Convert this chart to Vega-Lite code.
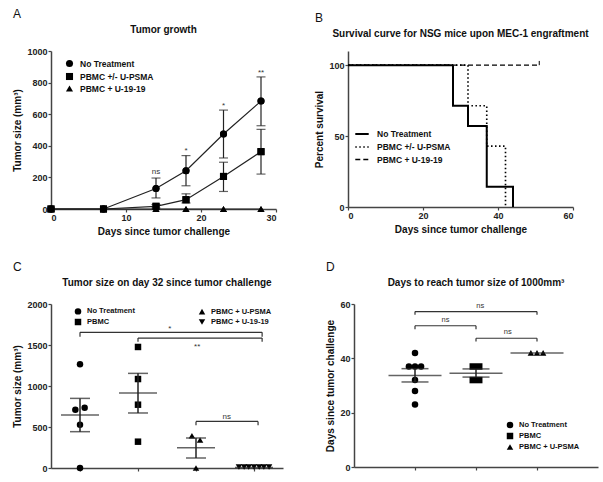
{
  "$schema": "https://vega.github.io/schema/vega-lite/v6.json",
  "background": "white",
  "padding": {"left": 12, "top": 8, "right": 5, "bottom": 5},
  "config": {
    "font": "Liberation Sans",
    "view": {"stroke": null},
    "axis": {"domainColor": "#444", "domainWidth": 1.5, "tickColor": "#444", "tickSize": 3, "tickWidth": 1.2, "labelFont": "Liberation Sans", "labelFontWeight": "bold", "labelFontSize": 9, "labelColor": "#222", "labelPadding": 1, "labelOverlap": false, "titleFont": "Liberation Sans", "titleFontWeight": "bold", "titleFontSize": 10, "titleColor": "#111", "grid": false, "format": "d"},
    "title": {"font": "Liberation Sans", "fontSize": 10, "fontWeight": "bold", "color": "#111"},
    "legend": {"title": null, "labelFont": "Liberation Sans", "labelFontWeight": "bold", "labelColor": "#111", "symbolFillColor": "black", "symbolStrokeColor": "black"}
  },
  "resolve": {"scale": {"shape": "independent", "strokeDash": "independent", "strokeWidth": "independent"}, "legend": {"shape": "independent", "strokeDash": "independent", "strokeWidth": "independent"}},
  "spacing": 25,
  "vconcat": [
    {
      "spacing": 37,
      "resolve": {"scale": {"shape": "independent", "strokeDash": "independent", "strokeWidth": "independent"}, "legend": {"shape": "independent", "strokeDash": "independent", "strokeWidth": "independent"}},
      "hconcat": [
        {
          "title": {"text": "A", "anchor": "start", "fontSize": 12, "fontWeight": "normal", "offset": 4},
          "vconcat": [
            {
              "width": 225, "height": 158,
              "title": {"text": "Tumor growth", "offset": 12, "frame": "group"},
              "data": {"values": [
                {"group": "PBMC + U-19-19", "day": 0, "size": 0},
                {"group": "PBMC + U-19-19", "day": 7, "size": 0},
                {"group": "PBMC + U-19-19", "day": 14, "size": 0},
                {"group": "PBMC + U-19-19", "day": 18, "size": 0},
                {"group": "PBMC + U-19-19", "day": 23, "size": 0},
                {"group": "PBMC + U-19-19", "day": 28, "size": 0},
                {"group": "No Treatment", "day": 0, "size": 0},
                {"group": "No Treatment", "day": 7, "size": 0},
                {"group": "No Treatment", "day": 14, "size": 130, "lo": 70, "hi": 196},
                {"group": "No Treatment", "day": 18, "size": 242, "lo": 147, "hi": 338},
                {"group": "No Treatment", "day": 23, "size": 475, "lo": 323, "hi": 626},
                {"group": "No Treatment", "day": 28, "size": 683, "lo": 527, "hi": 836},
                {"group": "PBMC +/- U-PSMA", "day": 0, "size": 0},
                {"group": "PBMC +/- U-PSMA", "day": 7, "size": 0},
                {"group": "PBMC +/- U-PSMA", "day": 14, "size": 17, "lo": 6, "hi": 28},
                {"group": "PBMC +/- U-PSMA", "day": 18, "size": 59, "lo": 38, "hi": 96},
                {"group": "PBMC +/- U-PSMA", "day": 23, "size": 206, "lo": 111, "hi": 296},
                {"group": "PBMC +/- U-PSMA", "day": 28, "size": 363, "lo": 221, "hi": 504}
              ]},
              "layer": [
                {
                  "mark": {"type": "point", "filled": true, "color": "black", "opacity": 1, "size": 50},
                  "encoding": {
                    "x": {"field": "day", "type": "quantitative", "scale": {"domain": [0, 30]}, "axis": {"values": [0, 10, 20, 30], "title": "Days since tumor challenge"}},
                    "y": {"field": "size", "type": "quantitative", "scale": {"domain": [0, 1000]}, "axis": {"values": [0, 200, 400, 600, 800, 1000], "tickCount": 6, "labelOverlap": false, "title": "Tumor size (mm³)"}},
                    "shape": {"field": "group", "type": "nominal",
                      "scale": {"domain": ["No Treatment", "PBMC +/- U-PSMA", "PBMC + U-19-19"], "range": ["circle", "square", "triangle-up"]},
                      "legend": {"orient": "none", "legendX": 14, "legendY": 8, "labelFontSize": 8.5, "symbolSize": 50, "rowPadding": -2, "labelOffset": 6}}
                  }
                },
                {
                  "mark": {"type": "line", "color": "#222", "strokeWidth": 1.2},
                  "encoding": {
                    "x": {"field": "day", "type": "quantitative"},
                    "y": {"field": "size", "type": "quantitative"},
                    "detail": {"field": "group"}
                  }
                },
                {
                  "mark": {"type": "rule", "color": "#222", "strokeWidth": 1.2},
                  "encoding": {
                    "x": {"field": "day", "type": "quantitative"},
                    "y": {"field": "lo", "type": "quantitative"},
                    "y2": {"field": "hi"}
                  }
                },
                {
                  "mark": {"type": "tick", "orient": "horizontal", "size": 9, "thickness": 1.2, "color": "#222"},
                  "encoding": {"x": {"field": "day", "type": "quantitative"}, "y": {"field": "lo", "type": "quantitative"}}
                },
                {
                  "mark": {"type": "tick", "orient": "horizontal", "size": 9, "thickness": 1.2, "color": "#222"},
                  "encoding": {"x": {"field": "day", "type": "quantitative"}, "y": {"field": "hi", "type": "quantitative"}}
                },
                {
                  "mark": {"type": "point", "filled": true, "color": "black", "opacity": 1, "size": 50},
                  "encoding": {
                    "x": {"field": "day", "type": "quantitative"},
                    "y": {"field": "size", "type": "quantitative"},
                    "shape": {"field": "group", "type": "nominal"}
                  }
                },
                {
                  "data": {"values": [
                    {"day": 14, "y": 237, "label": "ns"},
                    {"day": 18, "y": 365, "label": "*"},
                    {"day": 23, "y": 652, "label": "*"},
                    {"day": 28, "y": 862, "label": "**"}
                  ]},
                  "mark": {"type": "text", "fontSize": 8, "color": "#333", "baseline": "middle"},
                  "encoding": {"x": {"field": "day", "type": "quantitative"}, "y": {"field": "y", "type": "quantitative"}, "text": {"field": "label"}}
                }
              ]
            }
          ]
        },
        {
          "title": {"text": "B", "anchor": "start", "fontSize": 12, "fontWeight": "normal", "offset": 4},
          "vconcat": [
            {
              "width": 225, "height": 156,
              "title": {"text": "Survival curve for NSG mice upon MEC-1 engraftment", "offset": 12, "frame": "group"},
              "layer": [
                {
                  "data": {"values": [
                    {"group": "PBMC + U-19-19", "day": 0, "surv": 100},
                    {"group": "PBMC + U-19-19", "day": 51, "surv": 100},
                    {"group": "PBMC +/- U-PSMA", "day": 0, "surv": 100},
                    {"group": "PBMC +/- U-PSMA", "day": 32, "surv": 71.4},
                    {"group": "PBMC +/- U-PSMA", "day": 37, "surv": 42.9},
                    {"group": "PBMC +/- U-PSMA", "day": 42, "surv": 0},
                    {"group": "No Treatment", "day": 0, "surv": 100},
                    {"group": "No Treatment", "day": 28, "surv": 71.4},
                    {"group": "No Treatment", "day": 32, "surv": 57.1},
                    {"group": "No Treatment", "day": 37, "surv": 14.3},
                    {"group": "No Treatment", "day": 44, "surv": 0}
                  ]},
                  "mark": {"type": "line", "interpolate": "step-after", "color": "black"},
                  "encoding": {
                    "x": {"field": "day", "type": "quantitative", "scale": {"domain": [0, 60]}, "axis": {"values": [0, 20, 40, 60], "title": "Days since tumor challenge"}},
                    "y": {"field": "surv", "type": "quantitative", "scale": {"domain": [0, 110]}, "axis": {"values": [0, 50, 100], "title": "Percent survival"}},
                    "strokeDash": {"field": "group", "type": "nominal",
                      "scale": {"domain": ["No Treatment", "PBMC +/- U-PSMA", "PBMC + U-19-19"], "range": [[1, 0], [1.5, 2.5], [5, 3]]},
                      "legend": {"orient": "none", "legendX": 6, "legendY": 75, "labelFontSize": 8.5, "symbolType": "stroke", "symbolSize": 180, "symbolStrokeWidth": 1.8, "rowPadding": -4, "labelOffset": 7}},
                    "strokeWidth": {"field": "group", "type": "nominal",
                      "scale": {"domain": ["No Treatment", "PBMC +/- U-PSMA", "PBMC + U-19-19"], "range": [2, 1.3, 2]}, "legend": null}
                  }
                },
                {
                  "data": {"values": [{"day": 51, "a": 100, "b": 103}]},
                  "mark": {"type": "rule", "color": "black", "strokeWidth": 1},
                  "encoding": {"x": {"field": "day", "type": "quantitative"}, "y": {"field": "a", "type": "quantitative"}, "y2": {"field": "b"}}
                }
              ]
            }
          ]
        }
      ]
    },
    {
      "spacing": 42,
      "resolve": {"scale": {"shape": "independent"}, "legend": {"shape": "independent"}},
      "hconcat": [
        {
          "title": {"text": "C", "anchor": "start", "fontSize": 12, "fontWeight": "normal", "offset": 4},
          "vconcat": [
            {
              "width": 232, "height": 164,
              "title": {"text": "Tumor size on day 32 since tumor challenge", "offset": 12, "frame": "group"},
              "layer": [
                {
                  "data": {"values": [
                    {"group": "No Treatment", "x": 1.0, "v": 1265},
                    {"group": "No Treatment", "x": 1.08, "v": 735},
                    {"group": "No Treatment", "x": 0.92, "v": 711},
                    {"group": "No Treatment", "x": 1.0, "v": 528},
                    {"group": "No Treatment", "x": 1.0, "v": 0},
                    {"group": "PBMC", "x": 2.0, "v": 1476},
                    {"group": "PBMC", "x": 2.0, "v": 1085},
                    {"group": "PBMC", "x": 2.0, "v": 772},
                    {"group": "PBMC", "x": 2.0, "v": 321},
                    {"group": "PBMC + U-PSMA", "x": 2.93, "v": 394},
                    {"group": "PBMC + U-PSMA", "x": 3.07, "v": 341},
                    {"group": "PBMC + U-PSMA", "x": 3.0, "v": 0},
                    {"group": "PBMC + U-19-19", "x": 3.74, "v": 12},
                    {"group": "PBMC + U-19-19", "x": 3.83, "v": 12},
                    {"group": "PBMC + U-19-19", "x": 3.91, "v": 12},
                    {"group": "PBMC + U-19-19", "x": 4.0, "v": 12},
                    {"group": "PBMC + U-19-19", "x": 4.09, "v": 12},
                    {"group": "PBMC + U-19-19", "x": 4.17, "v": 12},
                    {"group": "PBMC + U-19-19", "x": 4.26, "v": 12}
                  ]},
                  "mark": {"type": "point", "filled": true, "color": "black", "opacity": 1, "size": 42},
                  "encoding": {
                    "x": {"field": "x", "type": "quantitative", "scale": {"domain": [0.5, 4.5]}, "axis": {"values": [1, 2, 3, 4], "labels": false, "title": null}},
                    "y": {"field": "v", "type": "quantitative", "scale": {"domain": [0, 2000]}, "axis": {"values": [0, 500, 1000, 1500, 2000], "title": "Tumor size (mm³)"}},
                    "shape": {"field": "group", "type": "nominal",
                      "scale": {"domain": ["No Treatment", "PBMC", "PBMC + U-PSMA", "PBMC + U-19-19"], "range": ["circle", "square", "triangle-up", "triangle-down"]},
                      "legend": {"orient": "none", "legendX": 23, "legendY": 3, "columns": 2, "columnPadding": 60, "labelFontSize": 7.5, "symbolSize": 42, "rowPadding": -6.9, "labelOffset": 5}}
                  }
                },
                {
                  "data": {"values": [
                    {"x": 1, "mean": 646, "lo": 443, "hi": 849},
                    {"x": 2, "mean": 914, "lo": 671, "hi": 1154},
                    {"x": 3, "mean": 248, "lo": 122, "hi": 366},
                    {"x": 4, "mean": 5}
                  ]},
                  "layer": [
                    {
                      "mark": {"type": "rule", "color": "#222", "strokeWidth": 1.5},
                      "encoding": {"x": {"field": "x", "type": "quantitative"}, "y": {"field": "lo", "type": "quantitative"}, "y2": {"field": "hi"}}
                    },
                    {
                      "mark": {"type": "tick", "orient": "horizontal", "size": 20, "thickness": 1.5, "color": "#222"},
                      "encoding": {"x": {"field": "x", "type": "quantitative"}, "y": {"field": "lo", "type": "quantitative"}}
                    },
                    {
                      "mark": {"type": "tick", "orient": "horizontal", "size": 20, "thickness": 1.5, "color": "#222"},
                      "encoding": {"x": {"field": "x", "type": "quantitative"}, "y": {"field": "hi", "type": "quantitative"}}
                    },
                    {
                      "mark": {"type": "tick", "orient": "horizontal", "size": 38, "thickness": 1.5, "color": "#222"},
                      "encoding": {"x": {"field": "x", "type": "quantitative"}, "y": {"field": "mean", "type": "quantitative"}}
                    }
                  ]
                },
                {
                  "data": {"values": [
                    {"x1": 1, "x2": 4.14, "y": 1654, "yt": 1600},
                    {"x1": 2, "x2": 4.14, "y": 1585, "yt": 1540},
                    {"x1": 3, "x2": 4.07, "y": 568, "yt": 520}
                  ]},
                  "layer": [
                    {
                      "mark": {"type": "rule", "color": "#333", "strokeWidth": 1.2},
                      "encoding": {"x": {"field": "x1", "type": "quantitative"}, "x2": {"field": "x2"}, "y": {"field": "y", "type": "quantitative"}}
                    },
                    {
                      "mark": {"type": "rule", "color": "#333", "strokeWidth": 1.2},
                      "encoding": {"x": {"field": "x1", "type": "quantitative"}, "y": {"field": "yt", "type": "quantitative"}, "y2": {"field": "y"}}
                    },
                    {
                      "mark": {"type": "rule", "color": "#333", "strokeWidth": 1.2},
                      "encoding": {"x": {"field": "x2", "type": "quantitative"}, "y": {"field": "yt", "type": "quantitative"}, "y2": {"field": "y"}}
                    }
                  ]
                },
                {
                  "data": {"values": [
                    {"x": 2.55, "y": 1690, "label": "*"},
                    {"x": 3.02, "y": 1480, "label": "**"},
                    {"x": 3.53, "y": 620, "label": "ns"}
                  ]},
                  "mark": {"type": "text", "fontSize": 8, "color": "#333", "baseline": "middle"},
                  "encoding": {"x": {"field": "x", "type": "quantitative"}, "y": {"field": "y", "type": "quantitative"}, "text": {"field": "label"}}
                }
              ]
            }
          ]
        },
        {
          "title": {"text": "D", "anchor": "start", "fontSize": 12, "fontWeight": "normal", "offset": 4},
          "vconcat": [
            {
              "width": 244, "height": 163,
              "title": {"text": "Days to reach tumor size of 1000mm³", "offset": 12, "frame": "group"},
              "layer": [
                {
                  "data": {"values": [
                    {"group": "No Treatment", "x": 1.0, "v": 42},
                    {"group": "No Treatment", "x": 0.9, "v": 37},
                    {"group": "No Treatment", "x": 1.0, "v": 37},
                    {"group": "No Treatment", "x": 1.1, "v": 37},
                    {"group": "No Treatment", "x": 1.0, "v": 32},
                    {"group": "No Treatment", "x": 1.0, "v": 28},
                    {"group": "No Treatment", "x": 1.0, "v": 23},
                    {"group": "PBMC", "x": 1.947, "v": 37},
                    {"group": "PBMC", "x": 2.053, "v": 37},
                    {"group": "PBMC", "x": 1.947, "v": 32},
                    {"group": "PBMC", "x": 2.053, "v": 32},
                    {"group": "PBMC + U-PSMA", "x": 2.9, "v": 42},
                    {"group": "PBMC + U-PSMA", "x": 3.0, "v": 42},
                    {"group": "PBMC + U-PSMA", "x": 3.1, "v": 42}
                  ]},
                  "mark": {"type": "point", "filled": true, "color": "black", "opacity": 1, "size": 42},
                  "encoding": {
                    "x": {"field": "x", "type": "quantitative", "scale": {"domain": [0.5, 3.5]}, "axis": {"values": [1, 2, 3], "labels": false, "title": null}},
                    "y": {"field": "v", "type": "quantitative", "scale": {"domain": [0, 60]}, "axis": {"values": [0, 20, 40, 60], "title": "Days since tumor challenge"}},
                    "shape": {"field": "group", "type": "nominal",
                      "scale": {"domain": ["No Treatment", "PBMC", "PBMC + U-PSMA"], "range": ["circle", "square", "triangle-up"]},
                      "legend": {"orient": "none", "legendX": 152, "legendY": 117, "labelFontSize": 7.5, "symbolSize": 42, "rowPadding": -3.5, "labelOffset": 5}}
                  }
                },
                {
                  "data": {"values": [
                    {"x": 1, "mean": 33.7, "lo": 31.3, "hi": 36.2},
                    {"x": 2, "mean": 34.5, "lo": 33.1, "hi": 36.1},
                    {"x": 3, "mean": 42}
                  ]},
                  "layer": [
                    {
                      "mark": {"type": "rule", "color": "#222", "strokeWidth": 1.5},
                      "encoding": {"x": {"field": "x", "type": "quantitative"}, "y": {"field": "lo", "type": "quantitative"}, "y2": {"field": "hi"}}
                    },
                    {
                      "mark": {"type": "tick", "orient": "horizontal", "size": 27, "thickness": 1.5, "color": "#222"},
                      "encoding": {"x": {"field": "x", "type": "quantitative"}, "y": {"field": "lo", "type": "quantitative"}}
                    },
                    {
                      "mark": {"type": "tick", "orient": "horizontal", "size": 27, "thickness": 1.5, "color": "#222"},
                      "encoding": {"x": {"field": "x", "type": "quantitative"}, "y": {"field": "hi", "type": "quantitative"}}
                    },
                    {
                      "mark": {"type": "tick", "orient": "horizontal", "size": 53, "thickness": 1.5, "color": "#222"},
                      "encoding": {"x": {"field": "x", "type": "quantitative"}, "y": {"field": "mean", "type": "quantitative"}}
                    }
                  ]
                },
                {
                  "data": {"values": [
                    {"x1": 1, "x2": 3, "y": 57.2, "yt": 56},
                    {"x1": 1, "x2": 2, "y": 52, "yt": 50.7},
                    {"x1": 2, "x2": 3, "y": 47.4, "yt": 46.2}
                  ]},
                  "layer": [
                    {
                      "mark": {"type": "rule", "color": "#333", "strokeWidth": 1.2},
                      "encoding": {"x": {"field": "x1", "type": "quantitative"}, "x2": {"field": "x2"}, "y": {"field": "y", "type": "quantitative"}}
                    },
                    {
                      "mark": {"type": "rule", "color": "#333", "strokeWidth": 1.2},
                      "encoding": {"x": {"field": "x1", "type": "quantitative"}, "y": {"field": "yt", "type": "quantitative"}, "y2": {"field": "y"}}
                    },
                    {
                      "mark": {"type": "rule", "color": "#333", "strokeWidth": 1.2},
                      "encoding": {"x": {"field": "x2", "type": "quantitative"}, "y": {"field": "yt", "type": "quantitative"}, "y2": {"field": "y"}}
                    }
                  ]
                },
                {
                  "data": {"values": [
                    {"x": 2.07, "y": 59.4, "label": "ns"},
                    {"x": 1.5, "y": 54.2, "label": "ns"},
                    {"x": 2.52, "y": 49.6, "label": "ns"}
                  ]},
                  "mark": {"type": "text", "fontSize": 7.5, "color": "#333", "baseline": "middle"},
                  "encoding": {"x": {"field": "x", "type": "quantitative"}, "y": {"field": "y", "type": "quantitative"}, "text": {"field": "label"}}
                }
              ]
            }
          ]
        }
      ]
    }
  ]
}
